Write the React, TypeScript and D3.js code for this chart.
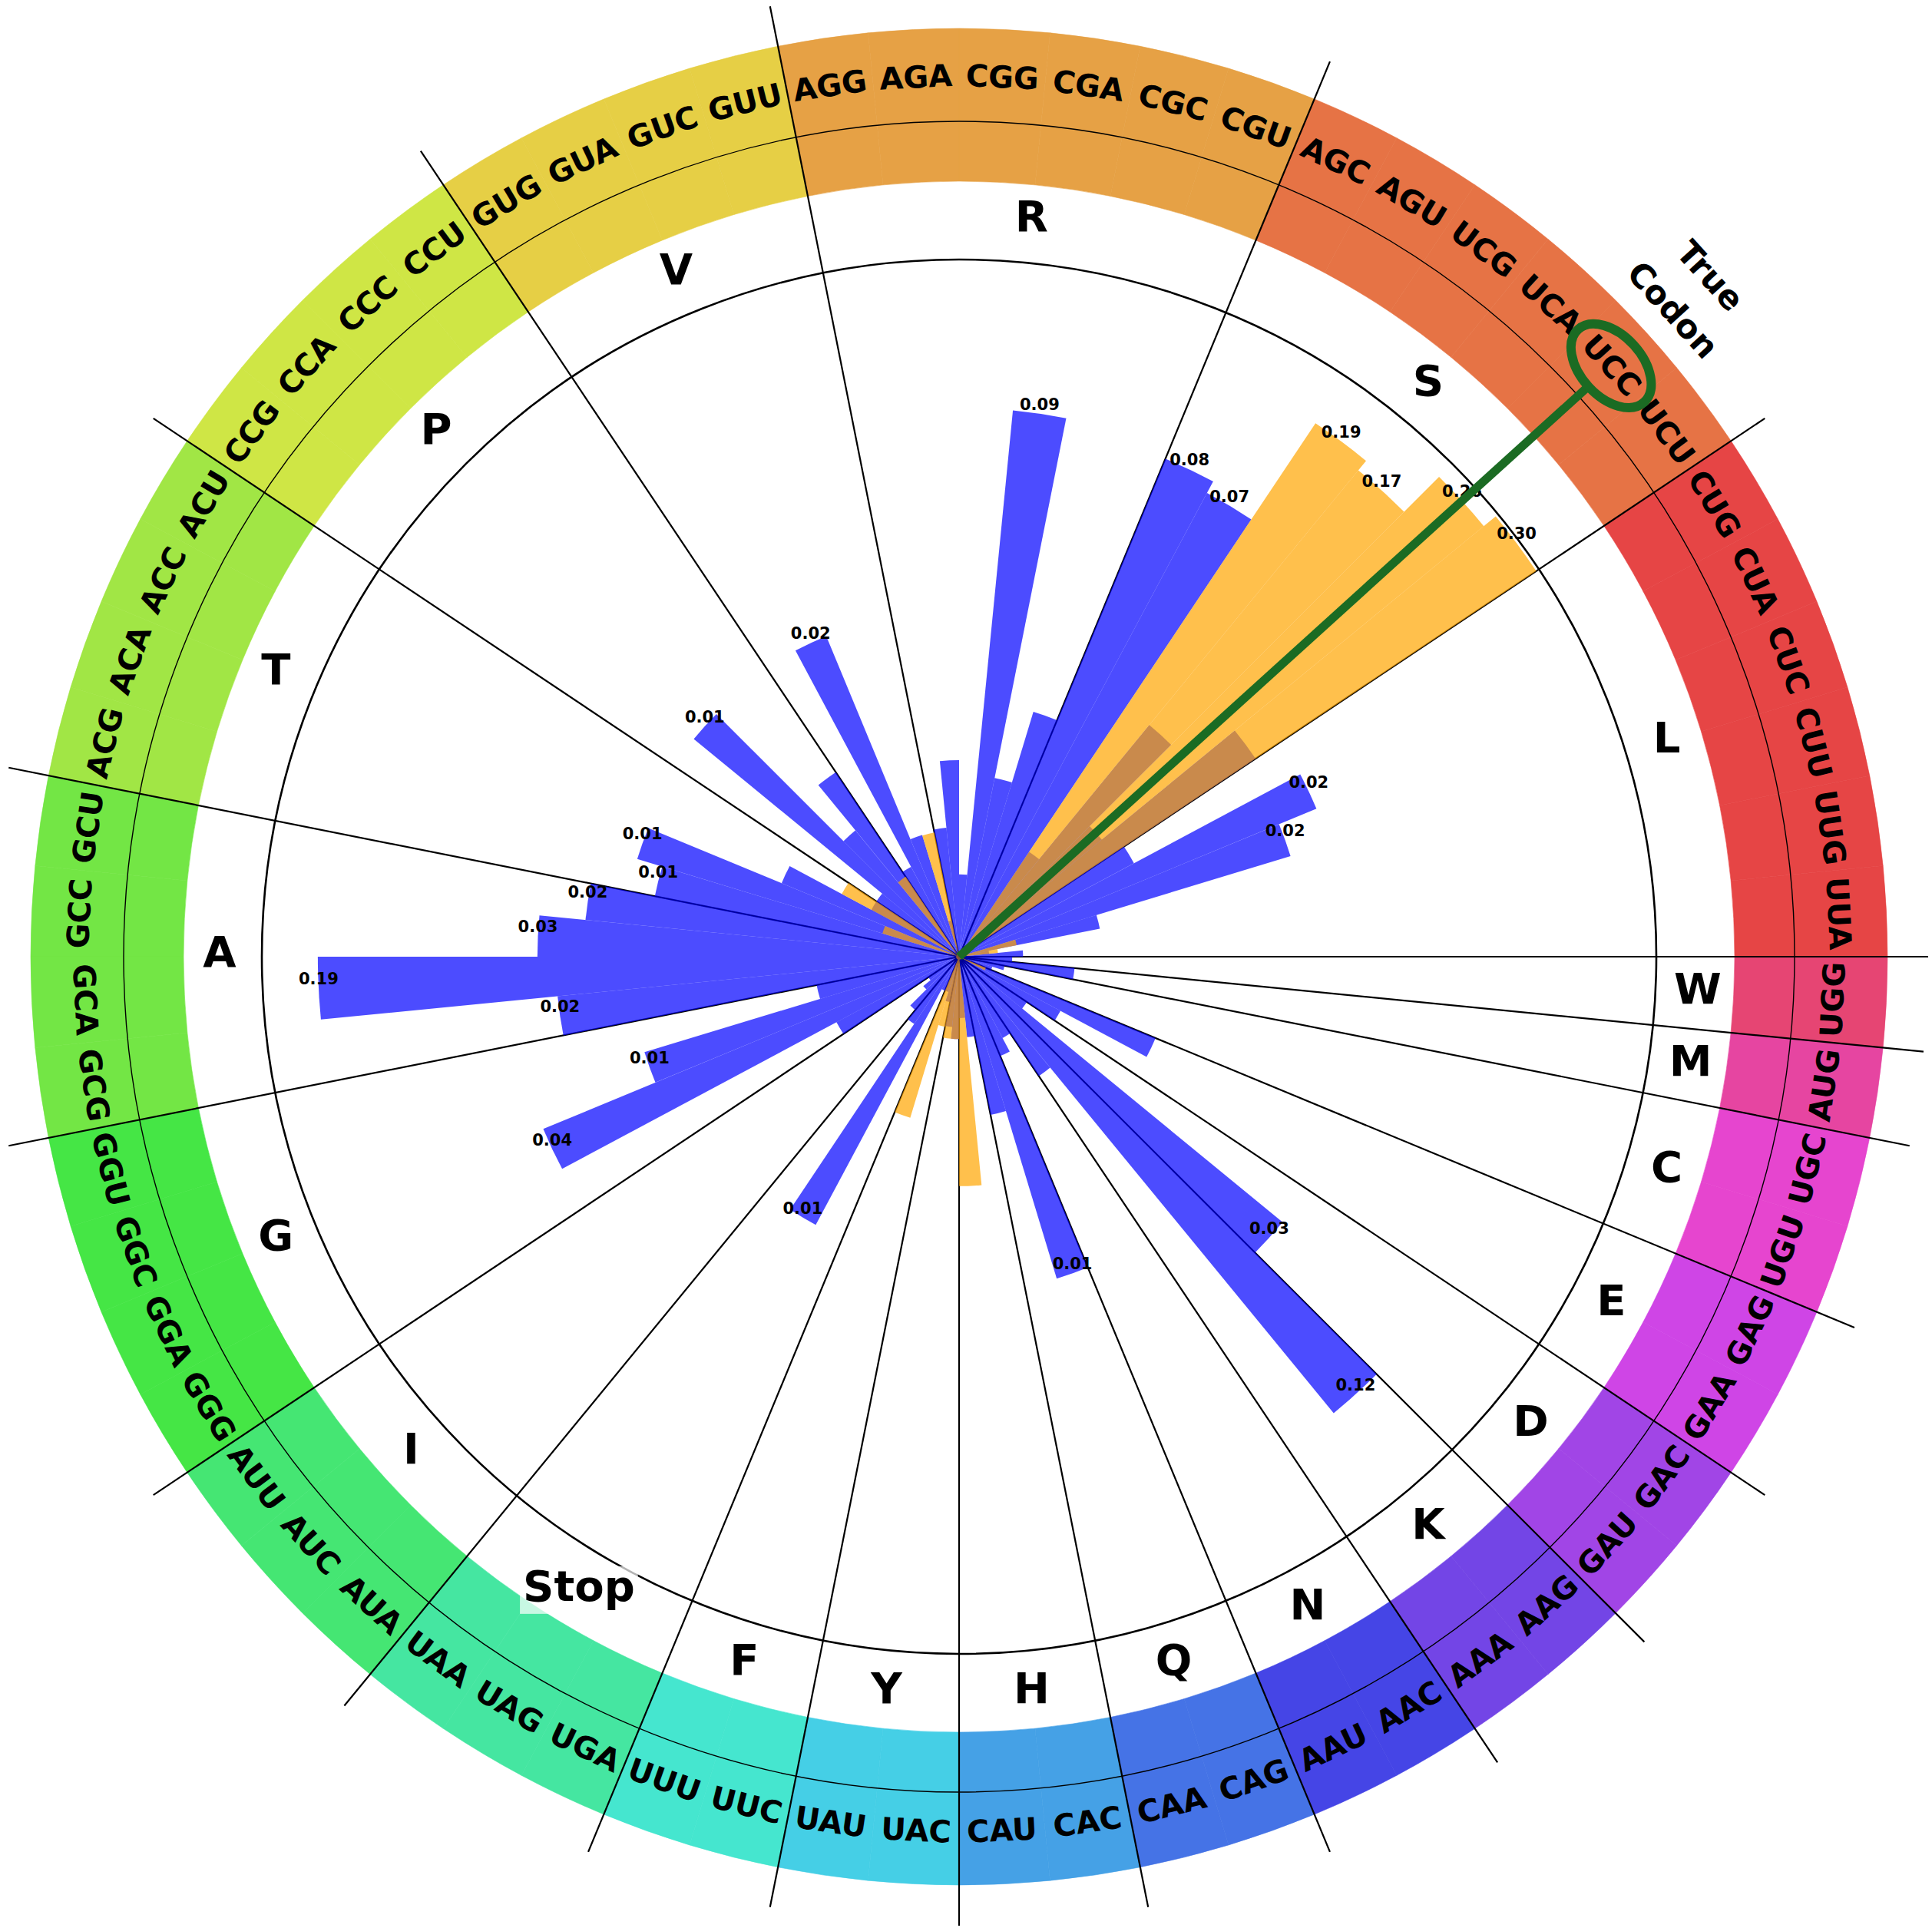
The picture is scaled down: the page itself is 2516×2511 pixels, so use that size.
import React from "react";
import * as d3 from "d3";

// ---- data ----
const codons = ["UUA","UUG","CUU","CUC","CUA","CUG","UCU","UCC","UCA","UCG","AGU","AGC","CGU","CGC","CGA","CGG","AGA","AGG","GUU","GUC","GUA","GUG","CCU","CCC","CCA","CCG","ACU","ACC","ACA","ACG","GCU","GCC","GCA","GCG","GGU","GGC","GGA","GGG","AUU","AUC","AUA","UAA","UAG","UGA","UUU","UUC","UAU","UAC","CAU","CAC","CAA","CAG","AAU","AAC","AAA","AAG","GAU","GAC","GAA","GAG","UGU","UGC","AUG","UGG"];

const aminoAcids = ["L","S","R","V","P","T","A","G","I","Stop","F","Y","H","Q","N","K","D","E","C","M","W"];
const codonsPerAmino = [6,6,6,4,4,4,4,4,3,3,2,2,2,2,2,2,2,2,2,1,1];

// predicted codon probabilities (blue)
const predictedProb = [
  0.00135, 0.00101, 0.00267, 0.0152, 0.0215, 0.00427,  // L
  0.0166, 0.0038, 0.0102, 0.0023, 0.0709, 0.0793,      // S
  0.0070, 0.00372, 0.0864, 0.00158, 0.00421, 0.00237,  // R
  0.00107, 0.00232, 0.0153, 0.00187,                   // V
  0.00523, 0.00317, 0.0148, 0.00183,                   // P
  0.00183, 0.00405, 0.01395, 0.01115,                  // T
  0.0195, 0.0290, 0.1906, 0.0248,                      // A
  0.00271, 0.01307, 0.0370, 0.00257,                   // G
  0.00107, 0.00116, 0.00141,                           // I
  0.00156, 0.01058, 0.00107,                           // Stop
  0.00107, 0.00116,                                    // F
  0.00143, 0.00158,                                    // Y
  0.00132, 0.00156,                                    // H
  0.00311, 0.01395,                                    // Q
  0.00196, 0.00172,                                    // N
  0.00267, 0.1233,                                     // K
  0.02823, 0.00157,                                    // D
  0.00209, 0.00483,                                    // E
  0.00105, 0.00116,                                    // C
  0.00211,                                             // M
  0.00123                                              // W
];

// reference codon probabilities (orange)
const referenceProb = [
  0.0008, 0.00109, 0.00129, 0.0008, 0.0008, 0.0008,    // L
  0.30, 0.263, 0.172, 0.191, 0.0008, 0.0008,           // S
  0.0008, 0.0008, 0.0008, 0.0008, 0.0008, 0.0008,      // R
  0.00231, 0.0008, 0.0008, 0.0008,                     // V
  0.00178, 0.0008, 0.0008, 0.0008,                     // P
  0.00244, 0.0008, 0.00155, 0.0008,                    // T
  0.0008, 0.0008, 0.0008, 0.0008,                      // A
  0.0008, 0.0008, 0.0008, 0.0008,                      // G
  0.0008, 0.0008, 0.0008,                              // I
  0.0008, 0.0008, 0.0008,                              // Stop
  0.0033, 0.00144,                                     // F
  0.00158, 0.00158,                                    // Y
  0.00558, 0.0008,                                     // H
  0.0008, 0.0008,                                      // Q
  0.0008, 0.0008,                                      // N
  0.0008, 0.0008,                                      // K
  0.0008, 0.0008,                                      // D
  0.0008, 0.0010,                                      // E
  0.0008, 0.0008,                                      // C
  0.0008,                                              // M
  0.0008                                               // W
];

const trueCodon = "UCC";
const annotationLines = ["True", "Codon"];

// ---- helpers ----
function hsv(h: number, s: number, v: number) {
  const c = v * s;
  const hp = (h % 360) / 60;
  const x = c * (1 - Math.abs((hp % 2) - 1));
  let r = 0, g = 0, b = 0;
  if (hp < 1) { r = c; g = x; }
  else if (hp < 2) { r = x; g = c; }
  else if (hp < 3) { g = c; b = x; }
  else if (hp < 4) { g = x; b = c; }
  else if (hp < 5) { r = x; b = c; }
  else { r = c; b = x; }
  const m = v - c;
  return d3.rgb((r + m) * 255, (g + m) * 255, (b + m) * 255).formatHex();
}

const FONT = "DejaVu Sans, Verdana, sans-serif";
const bw: Record<string, number> = { L:0.637,S:0.72,R:0.77,V:0.774,P:0.733,T:0.682,A:0.774,G:0.821,I:0.372,F:0.683,Y:0.724,H:0.837,Q:0.85,N:0.837,K:0.775,D:0.83,E:0.683,C:0.734,M:0.995,W:1.103,t:0.478,o:0.687,p:0.716 };

export default function App() {
  const W = 2516, H = 2511;
  const cx = 1249, cy = 1246;

  const angle = d3.scaleBand<string>().domain(codons).range([0, 360]).paddingInner(0).paddingOuter(0);
  const step = angle.bandwidth();
  const radius = d3.scaleLog().domain([0.00078, 0.3]).range([0, 904]).clamp(true);

  const R_GRID = 908, R_RING_IN = 1010, R_RING_MID = 1088, R_RING_OUT = 1209;
  const R_CODON = 1143, R_AMINO = 963, R_LINE = 1262;

  const rad = (d: number) => (d * Math.PI) / 180;
  const xy = (deg: number, r: number): [number, number] => [cx + r * Math.cos(rad(deg)), cy - r * Math.sin(rad(deg))];
  const arcGen = d3.arc<any>();
  const wedge = (a0: number, a1: number, r0: number, r1: number) =>
    arcGen({ innerRadius: r0, outerRadius: r1, startAngle: rad(90 - a1), endAngle: rad(90 - a0) }) as string;
  const textRot = (deg: number) => (deg < 180 ? 90 - deg : 270 - deg);

  const starts: number[] = [];
  codonsPerAmino.reduce((acc, n) => { starts.push(acc); return acc + n; }, 0);
  const groupColor = aminoAcids.map((_, i) => hsv((i * 360) / 21, 0.7, 0.9));
  const codonGroup: number[] = [];
  codonsPerAmino.forEach((n, gi) => { for (let k = 0; k < n; k++) codonGroup.push(gi); });

  const fmt = d3.format(".2f");
  const trueAngle = (angle(trueCodon) as number) + step / 2;

  return (
    <svg width={W} height={H} style={{ position: "absolute", left: 0, top: 0, background: "#fff" }} fontFamily={FONT}>
      <rect x={0} y={0} width={W} height={H} fill="#ffffff" />
      <g transform={`translate(${cx},${cy})`}>
        {codons.map((c, i) => {
          const a0 = angle(c) as number;
          return <path key={"ring" + c} d={wedge(a0, a0 + step, R_RING_IN, R_RING_OUT)} fill={groupColor[codonGroup[i]]} stroke={groupColor[codonGroup[i]]} strokeWidth={0.6} />;
        })}
      </g>
      <circle cx={cx} cy={cy} r={R_RING_MID} fill="none" stroke="#000" strokeWidth={1.4} />
      <circle cx={cx} cy={cy} r={R_GRID} fill="none" stroke="#000" strokeWidth={2.6} />
      {starts.map((s, gi) => {
        const deg = s * step;
        const [x2, y2] = xy(deg, R_LINE);
        return <line key={"bl" + gi} x1={cx} y1={cy} x2={x2} y2={y2} stroke="#000" strokeWidth={2.2} />;
      })}
      <g transform={`translate(${cx},${cy})`}>
        {codons.map((c, i) => {
          const a0 = angle(c) as number;
          const r = radius(predictedProb[i]);
          return r > 0 ? <path key={"pb" + c} d={wedge(a0, a0 + step, 0, r)} fill="#0000ff" fillOpacity={0.7} /> : null;
        })}
        {codons.map((c, i) => {
          const a0 = angle(c) as number;
          const r = radius(referenceProb[i]);
          return r > 0 ? <path key={"rb" + c} d={wedge(a0, a0 + step, 0, r)} fill="#ffa500" fillOpacity={0.7} /> : null;
        })}
      </g>
      {codons.map((c, i) => {
        const m = Math.max(predictedProb[i], referenceProb[i]);
        if (m < 0.01) return null;
        const mid = (angle(c) as number) + step / 2;
        const [x, y] = xy(mid, radius(m));
        return (
          <text key={"vl" + c} x={x} y={y - 5} textAnchor="middle" fontSize={21} fontWeight="bold" fill="#000">
            {fmt(m)}
          </text>
        );
      })}
      {codons.map((c) => {
        const mid = (angle(c) as number) + step / 2;
        const [x, y] = xy(mid, R_CODON);
        return (
          <text key={"cl" + c} transform={`translate(${x},${y}) rotate(${textRot(mid)})`} textAnchor="middle" dy="0.25em" fontSize={40} fontWeight="bold" fill="#000">
            {c}
          </text>
        );
      })}
      {aminoAcids.map((aa, gi) => {
        const mid = (starts[gi] + codonsPerAmino[gi] / 2) * step;
        const [x, y] = xy(mid, R_AMINO);
        const fs = 56;
        const w = aa.split("").reduce((s, ch) => s + (bw[ch] ?? 0.7), 0) * fs;
        const base = y + 0.24 * fs;
        return (
          <g key={"aa" + aa}>
            <rect x={x - w / 2 - 4} y={base - 0.76 * fs - 3} width={w + 8} height={fs + 6} fill="#fff" fillOpacity={0.7} />
            <text x={x} y={base} textAnchor="middle" fontSize={fs} fontWeight="bold" fill="#000">{aa}</text>
          </g>
        );
      })}
      {(() => {
        const [x2, y2] = xy(trueAngle, 1105);
        const [ex, ey] = xy(trueAngle, R_CODON + 3);
        const [tx, ty] = xy(trueAngle, 1288);
        const rot = textRot(trueAngle);
        return (
          <g key="true">
            <line x1={cx} y1={cy} x2={x2} y2={y2} stroke="#1b6b23" strokeWidth={11} />
            <ellipse cx={0} cy={0} rx={64} ry={40} transform={`translate(${ex},${ey}) rotate(${rot})`} fill="none" stroke="#1b6b23" strokeWidth={12} />
            <g transform={`translate(${tx},${ty}) rotate(${rot})`}>
              {annotationLines.map((t, k) => (
                <text key={t} x={0} y={(k - (annotationLines.length - 1) / 2) * 66} dy="0.36em" textAnchor="middle" fontSize={43} fontWeight="bold" fill="#000">{t}</text>
              ))}
            </g>
          </g>
        );
      })()}
    </svg>
  );
}
